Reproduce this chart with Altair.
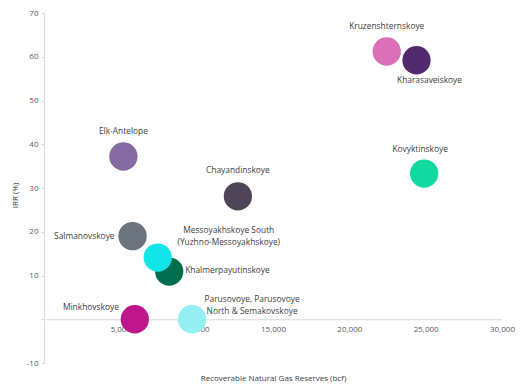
import altair as alt
import pandas as pd

names = ["Elk-Antelope", "Salmanovskoye", "Khalmerpayutinskoye",
         "Messoyakhskoye South\n(Yuzhno-Messoyakhskoye)", "Minkhovskoye",
         "Parusovoye, Parusovoye\nNorth & Semakovskoye", "Chayandinskoye",
         "Kruzenshternskoye", "Kharasaveiskoye", "Kovyktinskoye"]
reserves = [5200, 5800, 8200, 7450, 5950, 9700, 12700, 22450, 24400, 24900]
irr = [37.2, 19.0, 10.9, 14.1, 0.0, 0.0, 28.1, 61.2, 59.2, 33.3]
colors = ["#8569a1", "#6a737e", "#006d4f", "#12e5e8", "#c0168b",
          "#93eff2", "#4e4559", "#d970b8", "#51296d", "#12d9a0"]
x_ticks = [0, 5000, 10000, 15000, 20000, 25000, 30000]
y_ticks = [-10, 0, 10, 20, 30, 40, 50, 60, 70]

df = pd.DataFrame({"name": names, "reserves": reserves, "irr": irr,
                   "idx": list(range(len(names)))})

W, H = 458, 350
FONT = "Open Sans"

xscale = alt.Scale(domain=[0, 30000], nice=False, zero=False)
yscale = alt.Scale(domain=[-10, 70], nice=False, zero=False)

x_axis = alt.Axis(title="Recoverable Natural Gas Reserves (bcf)",
                  values=x_ticks,
                  labelExpr="datum.value == 0 ? '' : format(datum.value, ',')",
                  offset=-H * 10 / 80, grid=False, ticks=False, labelFlush=False,
                  domainColor="#d9d9d9", labelColor="#595959",
                  labelFontSize=8, labelFont=FONT, labelPadding=6,
                  titleFont=FONT, titleFontSize=8, titleFontWeight="normal",
                  titleColor="#404040", titleY=59, titleBaseline="middle")
y_axis = alt.Axis(title="IRR (%)", values=y_ticks,
                  labelExpr="datum.value == 0 ? '' : '' + datum.value",
                  grid=False, tickSize=3, tickColor="#d9d9d9", labelFlush=False,
                  domainColor="#d9d9d9", labelColor="#595959",
                  labelFontSize=8, labelFont=FONT, labelPadding=3,
                  titleFont=FONT, titleFontSize=8, titleFontWeight="normal",
                  titleColor="#404040", titleX=-29, titleY=182,
                  titleBaseline="middle")

x_enc = alt.X("reserves:Q", scale=xscale, axis=x_axis)
y_enc = alt.Y("irr:Q", scale=yscale, axis=y_axis)

base = alt.Chart(df)

points = base.mark_circle(size=800, opacity=1).encode(
    x=x_enc, y=y_enc,
    color=alt.Color("name:N", scale=alt.Scale(domain=names, range=colors), legend=None),
    order=alt.Order("idx:Q"),
)

label_style = {
    "Elk-Antelope": dict(align="center", dx=0, dy=-26),
    "Salmanovskoye": dict(align="right", dx=-18, dy=0),
    "Khalmerpayutinskoye": dict(align="left", dx=16, dy=-2),
    "Messoyakhskoye South\n(Yuzhno-Messoyakhskoye)": dict(align="center", dx=71, dy=-28),
    "Minkhovskoye": dict(align="right", dx=-16, dy=-12),
    "Parusovoye, Parusovoye\nNorth & Semakovskoye": dict(align="center", dx=60, dy=-20),
    "Chayandinskoye": dict(align="center", dx=0, dy=-26),
    "Kruzenshternskoye": dict(align="center", dx=0, dy=-26),
    "Kharasaveiskoye": dict(align="center", dx=13, dy=20),
    "Kovyktinskoye": dict(align="center", dx=-4, dy=-25),
}

labels = []
for n in names:
    s = label_style[n]
    labels.append(
        base.transform_filter(alt.datum.name == n).mark_text(
            font=FONT, fontSize=8.4, color="#404040", baseline="middle",
            lineBreak="\n", lineHeight=12, **s
        ).encode(x=x_enc, y=y_enc, text="name:N")
    )

chart = alt.layer(points, *labels).properties(
    width=W, height=H,
    background="white",
    autosize=alt.AutoSizeParams(type="none"),
    padding={"left": 36, "top": 5, "right": 19, "bottom": 20},
).configure_view(stroke=None)

chart.save("out.html", embed_options={"renderer": "svg", "actions": False})
